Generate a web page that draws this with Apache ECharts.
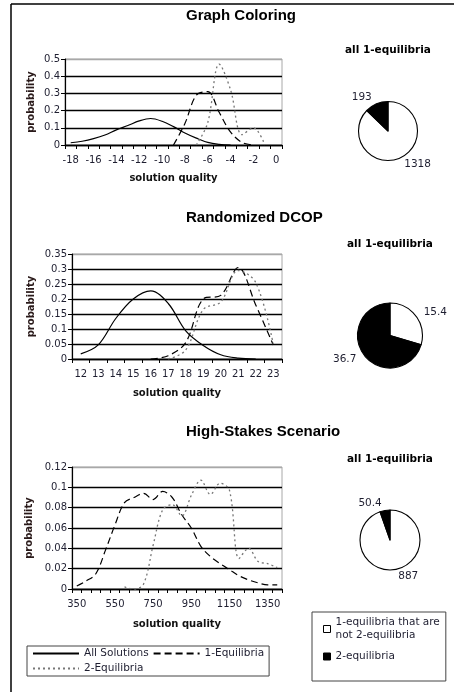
<!DOCTYPE html>
<html><head><meta charset="utf-8">
<script src="https://cdn.jsdelivr.net/npm/echarts@6/dist/echarts.min.js"></script>
<style>html,body{margin:0;padding:0;background:#fff}#c{width:454px;height:692px}</style>
</head><body><div id="c"></div>
<script>
// ---- Graph Coloring ----
const gcCats = ['-18','-17','-16','-15','-14','-13','-12','-11','-10','-9','-8','-7','-6','-5','-4','-3','-2','-1','0'];
const gcAll  = [0.013,0.022,0.037,0.058,0.088,0.113,0.14,0.154,0.138,0.107,0.07,0.04,0.015,0.004,0,null,null,null,null];
const gc1Eq  = [null,null,null,null,null,null,null,null,null,0,0.125,0.29,0.31,0.19,0.075,0.015,0,null,null];
const gc2Eq  = [null,null,null,null,null,null,null,null,null,null,null,0,0.13,0.47,0.32,0.06,0.1,0,null];
const gcPie  = [1318, 193];
// ---- Randomized DCOP ----
const dcCats = ['12','13','14','15','16','17','18','19','20','21','22','23'];
const dcAll  = [0.017,0.047,0.135,0.2,0.227,0.185,0.094,0.045,0.014,0.003,0,null];
const dc1Eq  = [null,null,null,null,0,0.011,0.055,0.2,0.212,0.305,0.18,0.047];
const dc2Eq  = [null,null,null,null,null,0,0.03,0.165,0.19,0.295,0.255,0.05];
const dcPie  = [15.4, 36.7];
// ---- High-Stakes Scenario ----
const hsCats = ['350','400','450','500','550','600','650','700','750','800','850','900','950','1000','1050','1100','1150','1200','1250','1300','1350','1400'];
const hs1Eq  = [0.003,0.008,0.015,0.038,0.063,0.085,0.09,0.094,0.088,0.096,0.09,0.073,0.06,0.042,0.032,0.025,0.019,0.013,0.009,0.006,0.004,0.004];
const hs2Eq  = [null,null,null,null,null,0.002,0,0.005,0.043,0.078,0.083,0.072,0.092,0.107,0.093,0.104,0.097,0.03,0.04,0.027,0.025,0.021];
const hsPie  = [887, 50.4];
// ---- names ----
const seriesNames = ['All Solutions','1-Equilibria','2-Equilibria'];
const pieNames = ['1-equilibria that are\nnot 2-equilibria','2-equilibria'];
const chartTitles = ['Graph Coloring','Randomized DCOP','High-Stakes Scenario'];
const pieTitle = 'all 1-equilibria';

const FONT = 'DejaVu Sans';
const TXT = '#1e1e30';
const lineStyles = [
  {color:'#000', width:1.2, type:'solid'},
  {color:'#000', width:1.2, type:[7,4]},
  {color:'#777', width:1.3, type:[2,3]}
];

function xAx(grid, cats, labInt, gap){
  return {type:'category', gridIndex:grid, data:cats, boundaryGap:true,
    axisLine:{show:true, lineStyle:{color:'#000', width:1.3}},
    axisTick:{show:true, interval:0, length:4, lineStyle:{color:'#000'}},
    axisLabel:{interval:labInt, color:TXT, fontFamily:FONT, fontSize:10, margin:10},
    splitLine:{show:false},
    name:'solution quality', nameLocation:'middle', nameGap:gap,
    nameTextStyle:{fontFamily:FONT, fontWeight:'bold', fontSize:10, color:'#111'}};
}
function yAx(grid, max, step, n, gap){
  const cols = [];
  for (let i=0;i<n;i++) cols.push(i===n-1 ? '#a8a8a8' : '#000');
  return {type:'value', gridIndex:grid, min:0, max:max, interval:step,
    axisLine:{show:true, lineStyle:{color:'#000', width:1.2}},
    axisTick:{show:true, length:4, lineStyle:{color:'#000'}},
    axisLabel:{color:TXT, fontFamily:FONT, fontSize:10, margin:5},
    splitLine:{show:true, lineStyle:{color:cols, width:1.3}},
    name:'probability', nameLocation:'middle', nameGap:gap, nameRotate:90,
    nameTextStyle:{fontFamily:FONT, fontWeight:'bold', fontSize:10, color:'#2a1a1a'}};
}
function ln(idx, k, data){
  return {type:'line', name:seriesNames[k], xAxisIndex:idx, yAxisIndex:idx, data:data,
    smooth:0.35, symbol:'none', lineStyle:lineStyles[k], itemStyle:{color:lineStyles[k].color},
    emphasis:{disabled:true}};
}
function pie(center, r, vals){
  return {type:'pie', center:center, radius:r, startAngle:90, clockwise:true,
    avoidLabelOverlap:false, emphasis:{disabled:true},
    itemStyle:{borderColor:'#000', borderWidth:1.1},
    label:{show:true, position:'outside', formatter:'{c}', color:TXT, fontFamily:FONT, fontSize:10.5, distanceToLabelLine:2},
    labelLine:{show:false, length:7, length2:0},
    data:[{name:pieNames[0], value:vals[0], itemStyle:{color:'#fff'}},
          {name:pieNames[1], value:vals[1], itemStyle:{color:'#000'}}]};
}
const tStyle = {fontFamily:'Liberation Sans', fontSize:15, fontWeight:'bold', color:'#000'};
const pStyle = {fontFamily:FONT, fontSize:10.5, fontWeight:'bold', color:'#000'};

const option = {
  animation:false,
  backgroundColor:'#fff',
  title:[
    {text:chartTitles[0], left:186, top:8, padding:0, textStyle:tStyle},
    {text:chartTitles[1], left:186, top:210, padding:0, textStyle:tStyle},
    {text:chartTitles[2], left:186, top:424, padding:0, textStyle:tStyle},
    {text:pieTitle, left:345, top:45, padding:0, textStyle:pStyle},
    {text:pieTitle, left:347, top:239, padding:0, textStyle:pStyle},
    {text:pieTitle, left:347, top:454, padding:0, textStyle:pStyle}
  ],
  legend:[
    {data:seriesNames, left:27, top:646, width:250, itemWidth:46, itemHeight:12, itemGap:4,
     padding:[2,5,2,5], borderColor:'#444', borderWidth:1, selectedMode:false,
     itemStyle:{opacity:0},
     textStyle:{fontFamily:FONT, fontSize:10.5, color:TXT}},
    {data:pieNames, orient:'vertical', left:312, top:612, itemWidth:7, itemHeight:7, itemGap:8,
     padding:[4,6,18,11], borderColor:'#444', borderWidth:1, selectedMode:false, icon:'rect',
     itemStyle:{borderColor:'#000', borderWidth:1},
     textStyle:{fontFamily:FONT, fontSize:10.5, color:TXT, lineHeight:13}}
  ],
  grid:[
    {left:65, top:59, width:217, height:86, show:true, borderColor:'#a8a8a8', borderWidth:1},
    {left:72, top:254, width:210, height:105, show:true, borderColor:'#a8a8a8', borderWidth:1},
    {left:72, top:467, width:210, height:122, show:true, borderColor:'#a8a8a8', borderWidth:1}
  ],
  xAxis:[xAx(0, gcCats, 1, 28), xAx(1, dcCats, 0, 29), xAx(2, hsCats, 3, 30)],
  yAxis:[yAx(0, 0.5, 0.1, 6, 29), yAx(1, 0.35, 0.05, 8, 36), yAx(2, 0.12, 0.02, 7, 38)],
  series:[
    ln(0,0,gcAll), ln(0,1,gc1Eq), ln(0,2,gc2Eq),
    ln(1,0,dcAll), ln(1,1,dc1Eq), ln(1,2,dc2Eq),
    ln(2,1,hs1Eq), ln(2,2,hs2Eq),
    pie([388,131], 29.5, gcPie),
    pie([390,335.5], 32.5, dcPie),
    pie([390,540], 30, hsPie)
  ],
  graphic:[
    {type:'line', shape:{x1:11, y1:4, x2:454, y2:4}, style:{stroke:'#000', lineWidth:1.5}},
    {type:'line', shape:{x1:11, y1:4, x2:11, y2:692}, style:{stroke:'#000', lineWidth:1.5}}
  ]
};
const chart = echarts.init(document.getElementById('c'), null, {renderer:'canvas'});
chart.setOption(option);
</script></body></html>
